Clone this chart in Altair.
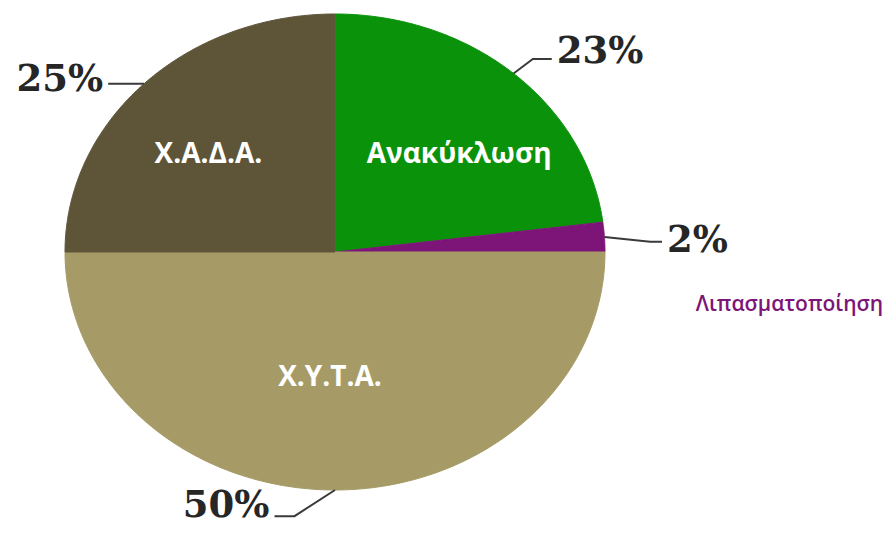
import altair as alt
import pandas as pd

# ---- data ----
categories = ["Ανακύκλωση", "Λιπασματοποίηση", "Χ.Υ.Τ.Α.", "Χ.Α.Δ.Α."]
values = [23, 2, 50, 25]
pct_labels = ["23%", "2%", "50%", "25%"]
colors = ["#0A930A", "#7D1478", "#A69B66", "#5E5539"]

df = pd.DataFrame({"cat": categories, "value": values, "pct": pct_labels,
                   "order": list(range(len(categories)))})

# ---- layout (page pixels) ----
W, H = 880, 517
CX, CY = 335 - 8, 252 - 8      # pie centre inside the chart
RX, RY = 270, 238              # elliptical radii

xs = alt.Scale(domain=[-CX / RX, (W - CX) / RX], nice=False, zero=False)
ys = alt.Scale(domain=[-(H - CY) / RY, CY / RY], nice=False, zero=False)
cscale = alt.Scale(domain=categories, range=colors)

base = alt.Chart(df).transform_joinaggregate(
    total="sum(value)"
).transform_window(
    cum="sum(value)", sort=[alt.SortField("order")], frame=[None, 0]
).transform_calculate(
    a0="2*PI*(datum.cum - datum.value)/datum.total",
    a1="2*PI*datum.cum/datum.total",
).transform_calculate(
    mid="(datum.a0 + datum.a1)/2"
)

N = 160
slices = base.transform_calculate(
    step=f"sequence(-1, {N + 1})"
).transform_flatten(["step"]).transform_calculate(
    t=f"datum.a0 + (datum.a1 - datum.a0)*datum.step/{N}",
).transform_calculate(
    px="datum.step < 0 ? 0 : sin(datum.t)",
    py="datum.step < 0 ? 0 : cos(datum.t)",
).mark_line(strokeWidth=1).encode(
    x=alt.X("px:Q", scale=xs, axis=None),
    y=alt.Y("py:Q", scale=ys, axis=None),
    order=alt.Order("step:Q"),
    fill=alt.Fill("cat:N", scale=cscale, legend=None),
    stroke=alt.Stroke("cat:N", scale=cscale, legend=None),
)


def annotation(cat, ext, turn_deg, arm, dy):
    sub = base.transform_filter(alt.datum.cat == cat).transform_calculate(
        e=f"datum.mid + ({turn_deg})*PI/180"
    )
    line = sub.transform_calculate(k="sequence(0, 3)").transform_flatten(
        ["k"]
    ).transform_calculate(
        px=f"datum.k == 0 ? sin(datum.mid) : sin(datum.e)*{ext} + (datum.k == 2 ? {arm} : 0)",
        py=f"datum.k == 0 ? cos(datum.mid) : cos(datum.e)*{ext}",
    ).mark_line(color="#3a3a3a", strokeWidth=2).encode(
        x=alt.X("px:Q", scale=xs, axis=None),
        y=alt.Y("py:Q", scale=ys, axis=None),
        order=alt.Order("k:Q"),
    )
    txt = sub.transform_calculate(
        px=f"sin(datum.e)*{ext} + {arm}",
        py=f"cos(datum.e)*{ext}",
    ).mark_text(
        font="DejaVu Serif", fontWeight="bold", fontSize=37, color="#262626",
        align="left" if arm > 0 else "right", baseline="alphabetic",
        dx=5 if arm > 0 else -5, dy=dy,
    ).encode(
        x=alt.X("px:Q", scale=xs, axis=None),
        y=alt.Y("py:Q", scale=ys, axis=None),
        text="pct:N",
    )
    return [line, txt]


def inner(cat, r, dx, dy, color="white", size=28, weight="bold"):
    return base.transform_filter(alt.datum.cat == cat).transform_calculate(
        px=f"sin(datum.mid)*{r}", py=f"cos(datum.mid)*{r}"
    ).mark_text(
        font="Open Sans", fontWeight=weight, fontSize=size, color=color,
        align="center", baseline="middle", dx=dx, dy=dy,
    ).encode(
        x=alt.X("px:Q", scale=xs, axis=None),
        y=alt.Y("py:Q", scale=ys, axis=None),
        text="cat:N",
    )


layers = [slices]
layers += annotation("Ανακύκλωση", 1.093, 0.7, 0.07, 4)
layers += annotation("Λιπασματοποίηση", 1.168, 1.5, 0.044, 10)
layers += annotation("Χ.Α.Δ.Α.", 1.0, 0.0, -0.133, 7)
layers += annotation("Χ.Υ.Τ.Α.", 1.12, 7.7, -0.074, 1)
layers += [
    inner("Χ.Α.Δ.Α.", 0.6, -12, 4),
    inner("Ανακύκλωση", 0.6, 17, 10),
    inner("Χ.Υ.Τ.Α.", 0.53, -5, 0),
    inner("Λιπασματοποίηση", 1.0, 185, 68, color="#7D1478", size=21, weight=600),
]

chart = alt.layer(*layers).properties(
    width=W, height=H, padding=0,
    autosize=alt.AutoSizeParams(type="none"),
).configure_view(stroke=None)

chart.save("out.html", embed_options={"renderer": "svg", "actions": False})
